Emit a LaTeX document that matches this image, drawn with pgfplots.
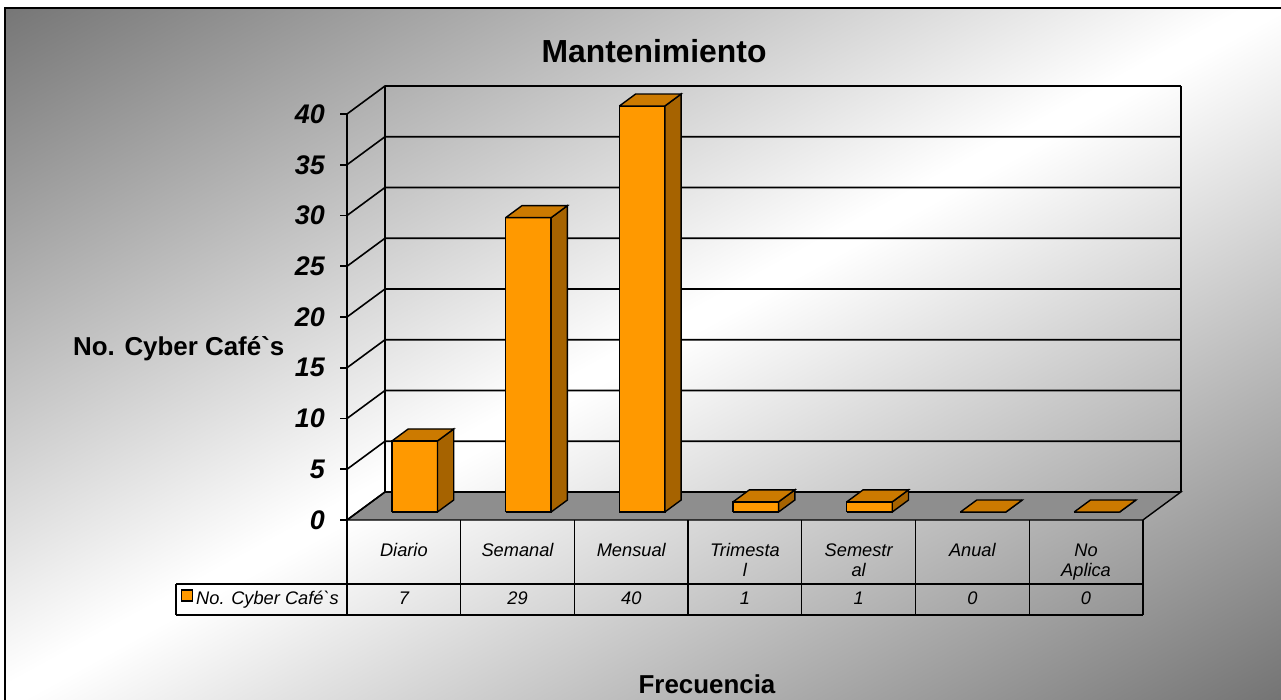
\documentclass[border=0pt]{standalone}
\usepackage{fontspec}
\setmainfont{Liberation Sans}[Ligatures=TeXOff]
\usepackage{pgfplots}
\usepackage{pgfplotstable}
\pgfplotsset{compat=1.18}

\definecolor{bgdark}{HTML}{747474}
\definecolor{barfront}{HTML}{FF9900}
\definecolor{bartop}{HTML}{CC7A00}
\definecolor{barside}{HTML}{A66300}
\definecolor{floorgray}{HTML}{8E8E8E}

% diagonal grey-white-grey backdrop
\pgfdeclarehorizontalshading{chartbg}{1600bp}{color(0bp)=(bgdark); color(86bp)=(bgdark); color(690bp)=(white); color(710bp)=(white); color(1314bp)=(bgdark); color(1400bp)=(bgdark)}

% number of cyber cafes per maintenance frequency
\pgfplotstableread{
x v
0 7
1 29
2 40
3 1
4 1
5 0
6 0
}\datatable

% oblique depth offset (one full depth unit) in axis units
\def\ddx{0.3342}
\def\ddy{2.759}
\def\ddxR{7.3342}
% depth range occupied by the columns
\def\dfront{0.286}
\def\dback{0.714}

\tikzset{
  gridline/.style={black, line width=1.6bp},
  barface/.style={draw=black, line width=1.4bp},
  tableline/.style={black, line width=1.3bp},
  catlabel/.style={anchor=base, inner sep=0pt, font=\fontsize{18.3}{18.3}\selectfont\itshape},
}

% one gridline on the side wall and the back wall
\newcommand\wallrow[1]{%
  \pgfmathsetmacro\wyA{#1}%
  \pgfmathsetmacro\wyB{#1+\ddy}%
  \edef\temp{\noexpand\addplot[gridline] coordinates {(0,\wyA) (\ddx,\wyB) (\ddxR,\wyB)};}%
  \temp}

% one column (front, side and top faces) and its value in the data table
\newcommand\barbox[1]{%
  \pgfplotstablegetelem{#1}{v}\of\datatable
  \edef\vraw{\pgfplotsretval}%
  \pgfmathsetmacro\hv{\vraw}%
  \pgfmathsetmacro\bxA{#1+0.3+\dfront*\ddx}%
  \pgfmathsetmacro\bxB{#1+0.7+\dfront*\ddx}%
  \pgfmathsetmacro\bxC{#1+0.3+\dback*\ddx}%
  \pgfmathsetmacro\bxD{#1+0.7+\dback*\ddx}%
  \pgfmathsetmacro\byA{\dfront*\ddy}%
  \pgfmathsetmacro\byB{\hv+\dfront*\ddy}%
  \pgfmathsetmacro\byC{\dback*\ddy}%
  \pgfmathsetmacro\byD{\hv+\dback*\ddy}%
  \pgfmathsetmacro\bxM{#1+0.5}%
  \edef\temp{%
    \noexpand\addplot[barface, fill=barfront] coordinates {(\bxA,\byA) (\bxB,\byA) (\bxB,\byB) (\bxA,\byB) (\bxA,\byA)};
    \noexpand\addplot[barface, fill=barside] coordinates {(\bxB,\byA) (\bxD,\byC) (\bxD,\byD) (\bxB,\byB) (\bxB,\byA)};
    \noexpand\addplot[barface, fill=bartop] coordinates {(\bxA,\byB) (\bxB,\byB) (\bxD,\byD) (\bxC,\byD) (\bxA,\byB)};
    \noexpand\node[catlabel] at (axis cs:\bxM,-8.276) {\vraw};
  }\temp}

\begin{document}
\begin{tikzpicture}
  % backdrop and frame
  \begin{scope}
    \clip (5bp,-8bp) rectangle (1290bp,-720bp);
    \pgftext[at={\pgfpoint{640.5bp}{-350bp}},rotate=-61.35]{\pgfuseshading{chartbg}}
  \end{scope}
  \draw[line width=2bp] (4.5bp,-7.5bp) rectangle (1290bp,-720bp);

  \begin{axis}[
    at={(347bp,-520bp)}, anchor=south west,
    x=113.7bp, y=10.15bp,
    xmin=0, xmax=7, ymin=0, ymax=40,
    clip=false,
    axis x line=none,
    axis y line=left,
    y axis line style={-, line width=1.6bp},
    ytick={0,5,...,40},
    tick align=outside,
    major tick length=7bp,
    ytick style={line width=1.6bp, black},
    yticklabel style={font=\fontsize{27}{27}\selectfont\bfseries\itshape, inner sep=0pt, xshift=-15bp},
    /pgf/number format/assume math mode=true,
  ]
    % floor
    \addplot[fill=floorgray, draw=black, line width=1.4bp] coordinates {(0,0) (7,0) (\ddxR,\ddy) (\ddx,\ddy) (0,0)};
    % walls
    \pgfplotsinvokeforeach{0,5,...,40}{\wallrow{#1}}
    \addplot[gridline] coordinates {(0.3342,2.759) (0.3342,42.759)};
    \addplot[gridline] coordinates {(7.3342,2.759) (7.3342,42.759)};
    % columns
    \pgfplotsinvokeforeach{0,...,6}{\barbox{#1}}

    % data table
    \draw[tableline] (axis cs:-1.504,-6.305) -- (axis cs:7,-6.305);
    \draw[tableline] (axis cs:-1.504,-9.36) -- (axis cs:7,-9.36);
    \draw[tableline] (axis cs:-1.504,-6.305) -- (axis cs:-1.504,-9.36);
    \pgfplotsinvokeforeach{0,...,7}{\draw[tableline] (axis cs:#1,0) -- (axis cs:#1,-9.36);}
    \node[catlabel] at (axis cs:0.5,-3.547) {Diario};
    \node[catlabel] at (axis cs:1.5,-3.547) {Semanal};
    \node[catlabel] at (axis cs:2.5,-3.547) {Mensual};
    \node[catlabel] at (axis cs:3.5,-3.547) {Trimesta};
    \node[catlabel] at (axis cs:3.5,-5.517) {l};
    \node[catlabel] at (axis cs:4.5,-3.547) {Semestr};
    \node[catlabel] at (axis cs:4.5,-5.517) {al};
    \node[catlabel] at (axis cs:5.5,-3.547) {Anual};
    \node[catlabel] at (axis cs:6.5,-3.547) {No};
    \node[catlabel] at (axis cs:6.5,-5.517) {Aplica};
    % series key
    \draw[line width=1.5bp, fill=barfront] (axis cs:-1.456,-6.897) rectangle (axis cs:-1.360,-7.98);
    \node[catlabel, anchor=base west] at (axis cs:-1.328,-8.276) {No. Cyber Café`s};
  \end{axis}

  % titles
  \node[anchor=base, inner sep=0pt, font=\fontsize{32}{32}\selectfont\bfseries] at (654bp,-62bp) {Mantenimiento};
  \node[anchor=base west, inner sep=0pt, font=\fontsize{26}{26}\selectfont\bfseries] at (73bp,-355bp) {No. Cyber Café`s};
  \node[anchor=base, inner sep=0pt, font=\fontsize{26}{26}\selectfont\bfseries] at (707bp,-693bp) {Frecuencia};

  \pgfresetboundingbox
  \useasboundingbox (0,0) rectangle (1281bp,-700bp);
\end{tikzpicture}
\end{document}
